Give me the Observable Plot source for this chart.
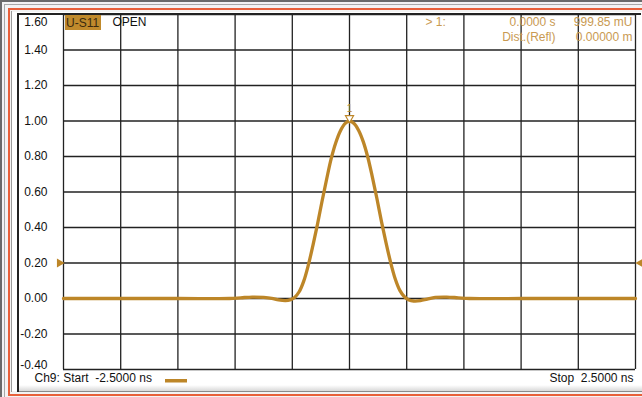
<!DOCTYPE html>
<html>
<head>
<meta charset="utf-8">
<script src="https://cdn.jsdelivr.net/npm/d3@7"></script>
<script src="https://cdn.jsdelivr.net/npm/@observablehq/plot@0.6"></script>
<style>
  html, body { margin: 0; padding: 0; background: #ececec; }
  #wrap { position: relative; width: 642px; height: 397px; overflow: hidden; font-family: "Liberation Sans", Arial, sans-serif; }
  .ln { position: absolute; }
  #chart { position: absolute; left: 0; top: 0; }
</style>
</head>
<body>
<div id="wrap">
  <div class="ln" style="left:0;top:0;width:642px;height:397px;background:#f3f3f3"></div>
  <div class="ln" style="left:0;top:0;width:2px;height:397px;background:#6a6a6a"></div>
  <div class="ln" style="left:0;top:0;width:642px;height:2px;background:#6a6a6a"></div>
  <div class="ln" style="left:4px;top:4px;width:1px;height:393px;background:#a8a8a8"></div>
  <div class="ln" style="left:4px;top:4px;width:638px;height:1px;background:#a8a8a8"></div>
  <div class="ln" style="left:8px;top:8px;width:2px;height:388px;background:#e8603a"></div>
  <div class="ln" style="left:8px;top:8px;width:634px;height:2px;background:#e8603a"></div>
  <div class="ln" style="left:8px;top:394px;width:634px;height:2px;background:#e8603a"></div>
  <div class="ln" style="left:11px;top:11px;width:1px;height:381px;background:#9a9a9a"></div>
  <div class="ln" style="left:12px;top:12px;width:630px;height:379px;background:#ffffff"></div>
  <div class="ln" style="left:18px;top:385px;width:624px;height:6px;background:linear-gradient(#ffffff,#d8d8d8)"></div>
  <div class="ln" style="left:18px;top:391px;width:624px;height:1px;background:#8a8a8a"></div>
  <div class="ln" style="left:17px;top:13px;width:2px;height:379px;background:#222"></div>
  <div class="ln" style="left:17px;top:13px;width:624px;height:2px;background:#222"></div>
  <div id="chart"></div>
</div>
<script>
// ---- data ----
const timeNs = [-2.5, -1.5, -1.05, -0.95, -0.85, -0.75, -0.68, -0.62, -0.56, -0.52, -0.48, -0.44, -0.40, -0.36, -0.32, -0.28, -0.24, -0.20, -0.16, -0.12, -0.08, -0.04, 0,
  0.04, 0.08, 0.12, 0.16, 0.20, 0.24, 0.28, 0.32, 0.36, 0.40, 0.44, 0.48, 0.52, 0.56, 0.62, 0.68, 0.75, 0.85, 0.95, 1.05, 1.5, 2.5];
const magnitude = [0, 0, 0, 0.004, 0.008, 0.006, 0.001, -0.008, -0.012, -0.008, 0.006, 0.038, 0.098, 0.188, 0.298, 0.418, 0.548, 0.672, 0.788, 0.878, 0.944, 0.985, 1.0,
  0.986, 0.947, 0.884, 0.796, 0.684, 0.562, 0.432, 0.312, 0.202, 0.11, 0.046, 0.01, -0.008, -0.014, -0.012, -0.003, 0.006, 0.008, 0.004, 0, 0, 0];
const xTicks = [-2.5, -2.0, -1.5, -1.0, -0.5, 0, 0.5, 1.0, 1.5, 2.0, 2.5];
const yTicks = [1.6, 1.4, 1.2, 1.0, 0.8, 0.6, 0.4, 0.2, 0.0, -0.2, -0.4];
const markerTime = [0];
const markerValue = [0.99985];
const refLevel = [0.2];

const traceColor = "#bd8628";
const readColor = "#c99a52";
const data = timeNs.map((t, i) => ({t, v: magnitude[i]}));
const fmt = v => v.toFixed(2);
const midTicks = yTicks.filter(v => v < 1.59 && v > -0.39);

const plot = Plot.plot({
  width: 642,
  height: 397,
  marginLeft: 63,
  marginRight: 7,
  marginTop: 14,
  marginBottom: 28,
  x: {domain: [-2.5, 2.5], axis: null},
  y: {domain: [-0.4, 1.6], axis: null},
  style: {background: "transparent", fontFamily: "'Liberation Sans', Arial, sans-serif", fontSize: "12px", overflow: "visible"},
  marks: [
    Plot.ruleX(xTicks, {stroke: "#222", strokeWidth: 1.3}),
    Plot.ruleY(yTicks, {stroke: "#222", strokeWidth: 1.3}),
    Plot.text(midTicks, {x: () => -2.5, y: d => d, text: fmt, textAnchor: "end", dx: -16, fill: "#111"}),
    Plot.text([1.6], {x: () => -2.5, y: d => d, text: fmt, textAnchor: "end", dx: -16, dy: 8, fill: "#111"}),
    Plot.text([-0.4], {x: () => -2.5, y: d => d, text: fmt, textAnchor: "end", dx: -16, dy: -4, fill: "#111"}),
    Plot.line(data, {x: "t", y: "v", stroke: traceColor, strokeWidth: 3.3, curve: "catmull-rom"}),
    // reference level arrows
    Plot.dot(refLevel, {x: () => -2.5, y: d => d, symbol: "triangle", rotate: 90, r: 3.3, fill: traceColor, stroke: "none", dx: -4}),
    Plot.dot(refLevel, {x: () => 2.5, y: d => d, symbol: "triangle", rotate: -90, r: 3.3, fill: traceColor, stroke: "none", dx: 5}),
    // marker
    Plot.dot(markerTime, {x: d => d, y: (d, i) => markerValue[i], symbol: "triangle", rotate: 180, r: 3, fill: "white", stroke: traceColor, strokeWidth: 1.2, dy: -3}),
    Plot.text(markerTime, {x: d => d, y: (d, i) => markerValue[i], text: () => "1", dy: -12, fill: traceColor, fontSize: 10}),
    // header annotations
    Plot.text(["OPEN"], {frameAnchor: "top-left", text: d => d, textAnchor: "start", dx: 49, dy: 3, fill: "#111"}),
    Plot.text(["> 1:"], {frameAnchor: "top-left", text: d => d, textAnchor: "start", dx: 362, dy: 3, fill: readColor}),
    Plot.text([markerTime[0].toFixed(4) + " s"], {frameAnchor: "top-left", text: d => d, textAnchor: "end", dx: 492, dy: 3, fill: readColor}),
    Plot.text([(markerValue[0] * 1000).toFixed(2) + " mU"], {frameAnchor: "top-left", text: d => d, textAnchor: "end", dx: 569, dy: 3, fill: readColor}),
    Plot.text(["Dist.(Refl)"], {frameAnchor: "top-left", text: d => d, textAnchor: "end", dx: 492, dy: 18, fill: readColor}),
    Plot.text(["0.00000 m"], {frameAnchor: "top-left", text: d => d, textAnchor: "end", dx: 569, dy: 18, fill: readColor}),
    // footer
    Plot.text(["Ch9: Start  -2.5000 ns"], {frameAnchor: "bottom-left", text: d => d, textAnchor: "start", dx: -29, dy: 12, fill: "#111"}),
    Plot.text(["Stop  2.5000 ns"], {frameAnchor: "bottom-right", text: d => d, textAnchor: "end", dx: -2, dy: 12, fill: "#111"})
  ]
});
document.getElementById("chart").appendChild(plot);

// label badge "U-S11" and legend swatch, positioned with Plot's scales
const svg = d3.select(plot);
const sx = plot.scale("x"), sy = plot.scale("y");
const x0 = sx.apply(-2.5), yTop = sy.apply(1.6), yBot = sy.apply(-0.4);
const g = svg.append("g");
g.append("rect").attr("x", x0 + 2).attr("y", yTop + 1).attr("width", 36).attr("height", 15).attr("fill", "#c08a2c");
g.append("text").attr("x", x0 + 3).attr("y", yTop + 9).attr("dy", "0.35em").attr("text-anchor", "start").attr("fill", "#3a2a10").attr("font-size", 12).text("U-S11");
g.append("rect").attr("x", x0 + 102).attr("y", yBot + 10).attr("width", 22).attr("height", 3.5).attr("fill", traceColor);
</script>
</body>
</html>
